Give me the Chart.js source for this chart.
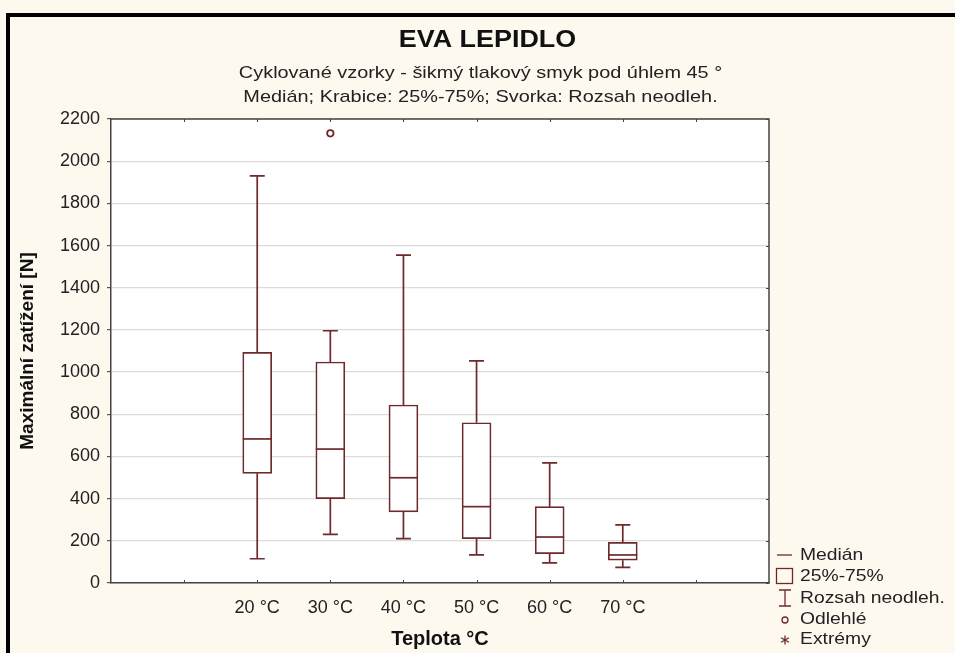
<!DOCTYPE html>
<html>
<head>
<meta charset="utf-8">
<script src="https://cdn.jsdelivr.net/npm/chart.js@4.4.1/dist/chart.umd.min.js"></script>
<style>
  html, body { margin: 0; padding: 0; background: #fdf9ef; }
  body { width: 955px; height: 653px; position: relative; overflow: hidden; }
  #frame {
    position: absolute; left: 6px; top: 13px; width: 949px; height: 640px;
    border-left: 4px solid #000; border-top: 4px solid #000;
  }
  #wrap { position: absolute; left: 0; top: 0; width: 945px; height: 636px; }
</style>
</head>
<body>
<div id="frame"><div id="wrap"><canvas id="c" width="945" height="636"></canvas></div></div>
<script>
// Box plot of maximum load per test temperature
const categories = ['20 °C', '30 °C', '40 °C', '50 °C', '60 °C', '70 °C'];
const whiskerLow  = [115, 231, 210, 133,  95,  74];
const q1          = [520, 400, 337, 210, 139, 108];
const median      = [683, 635, 499, 362, 218, 133];
const q3          = [1094, 1048, 844, 760, 362, 193];
const whiskerHigh = [1930, 1196, 1555, 1053, 570, 276];
const outlierCategory = ['30 °C'];
const outlierValue    = [2132];
const yTickValues = [0, 200, 400, 600, 800, 1000, 1200, 1400, 1600, 1800, 2000, 2200];

const titleText = 'EVA LEPIDLO';
const subtitleLines = [
  'Cyklované vzorky - šikmý tlakový smyk pod úhlem 45 °',
  'Medián; Krabice: 25%-75%; Svorka: Rozsah neodleh.'
];
const legendLabels = ['Medián', '25%-75%', 'Rozsah neodleh.', 'Odlehlé', 'Extrémy'];

// categories sit on slots 2..7 of a 0..9 axis; 1 and 8 are empty tick positions
const SLOT_OFFSET = 2;
const slotOf = (i) => i + SLOT_OFFSET;

const BOX = '#6e2a2a';
const TEXT = '#222';
const FONT = "'Liberation Sans', Arial, sans-serif";
const WIDE = 1.17; // horizontal stretch of the heading and legend lettering

const boxData = categories.map((c, i) => ({ x: slotOf(i), y: [q1[i], q3[i]] }));
const outlierData = outlierCategory.map((c, k) => ({ x: slotOf(categories.indexOf(c)), y: outlierValue[k] }));

function wideText(ctx, text, x, y, stretch) {
  ctx.save();
  ctx.translate(x, y);
  ctx.scale(stretch, 1);
  ctx.fillText(text, 0, 0);
  ctx.restore();
}

const plotDecor = {
  id: 'plotDecor',
  beforeDraw(chart) {
    const { ctx, chartArea: a } = chart;
    ctx.save();
    ctx.fillStyle = '#ffffff';
    ctx.fillRect(a.left, a.top, a.right - a.left, a.bottom - a.top);
    ctx.restore();
  },
  beforeDatasetsDraw(chart) {
    const { ctx, scales: { x, y } } = chart;
    ctx.save();
    ctx.strokeStyle = BOX;
    ctx.lineWidth = 1.7;
    const cap = 7.5;
    categories.forEach((c, i) => {
      const px = x.getPixelForValue(slotOf(i));
      const lo = y.getPixelForValue(whiskerLow[i]);
      const hi = y.getPixelForValue(whiskerHigh[i]);
      const b1 = y.getPixelForValue(q1[i]);
      const b3 = y.getPixelForValue(q3[i]);
      ctx.beginPath();
      ctx.moveTo(px, b1); ctx.lineTo(px, lo);
      ctx.moveTo(px - cap, lo); ctx.lineTo(px + cap, lo);
      ctx.moveTo(px, b3); ctx.lineTo(px, hi);
      ctx.moveTo(px - cap, hi); ctx.lineTo(px + cap, hi);
      ctx.stroke();
    });
    ctx.restore();
  },
  afterDatasetsDraw(chart) {
    const { ctx, scales: { y } } = chart;
    const meta = chart.getDatasetMeta(0);
    ctx.save();
    ctx.strokeStyle = BOX;
    ctx.lineWidth = 1.7;
    categories.forEach((c, i) => {
      const bar = meta.data[i];
      const half = bar.width / 2;
      const m = y.getPixelForValue(median[i]);
      ctx.beginPath();
      ctx.moveTo(bar.x - half, m); ctx.lineTo(bar.x + half, m);
      ctx.stroke();
    });
    ctx.restore();
  },
  afterDraw(chart) {
    const { ctx, chartArea: a, scales: { x, y } } = chart;
    ctx.save();
    // frame: top and right edges
    ctx.strokeStyle = '#444';
    ctx.lineWidth = 1.5;
    ctx.beginPath();
    ctx.moveTo(a.left, a.top); ctx.lineTo(a.right, a.top); ctx.lineTo(a.right, a.bottom);
    ctx.stroke();
    // small inward tick marks
    ctx.lineWidth = 1;
    ctx.beginPath();
    x.ticks.forEach(t => {
      if (t.value <= x.min || t.value >= x.max) return;
      const px = Math.round(x.getPixelForValue(t.value)) + 0.5;
      ctx.moveTo(px, a.bottom); ctx.lineTo(px, a.bottom - 3);
      ctx.moveTo(px, a.top); ctx.lineTo(px, a.top + 3);
    });
    y.ticks.forEach(t => {
      const py = Math.round(y.getPixelForValue(t.value)) + 0.5;
      ctx.moveTo(a.right, py); ctx.lineTo(a.right - 3, py);
    });
    ctx.stroke();

    // titles
    const cx = chart.width / 2;
    ctx.fillStyle = '#111';
    ctx.textAlign = 'center';
    ctx.textBaseline = 'middle';
    ctx.font = `bold 23px ${FONT}`;
    wideText(ctx, titleText, cx + 5, 24, WIDE);
    ctx.fillStyle = TEXT;
    ctx.font = `17px ${FONT}`;
    wideText(ctx, subtitleLines[0], cx - 2, 56, WIDE);
    wideText(ctx, subtitleLines[1], cx - 2, 80, WIDE);

    // legend
    const lx = a.right + 4;
    const rows = [538, 559, 581, 602, 622];
    ctx.textAlign = 'left';
    ctx.font = `16.5px ${FONT}`;
    legendLabels.forEach((lab, k) => {
      ctx.fillStyle = TEXT;
      wideText(ctx, lab, lx + 27, rows[k], WIDE);
    });
    ctx.strokeStyle = BOX;
    ctx.lineWidth = 1.3;
    const sx = lx + 12;
    ctx.beginPath();
    // median dash
    ctx.moveTo(sx - 8, rows[0]); ctx.lineTo(sx + 7, rows[0]);
    ctx.stroke();
    // box square
    ctx.strokeRect(sx - 8.5, rows[1] - 7.5, 16, 15);
    // whisker symbol
    ctx.beginPath();
    ctx.moveTo(sx - 6, rows[2] - 8); ctx.lineTo(sx + 6, rows[2] - 8);
    ctx.moveTo(sx, rows[2] - 8); ctx.lineTo(sx, rows[2] + 8);
    ctx.moveTo(sx - 6, rows[2] + 8); ctx.lineTo(sx + 6, rows[2] + 8);
    ctx.stroke();
    // outlier circle
    ctx.beginPath();
    ctx.arc(sx, rows[3] + 1, 3, 0, Math.PI * 2);
    ctx.stroke();
    // extreme asterisk
    ctx.beginPath();
    for (let k = 0; k < 3; k++) {
      const ang = Math.PI / 2 + k * Math.PI / 3;
      ctx.moveTo(sx - 4.5 * Math.cos(ang), rows[4] + 1 - 4.5 * Math.sin(ang));
      ctx.lineTo(sx + 4.5 * Math.cos(ang), rows[4] + 1 + 4.5 * Math.sin(ang));
    }
    ctx.stroke();
    ctx.restore();
  }
};

new Chart(document.getElementById('c'), {
  type: 'bar',
  data: {
    datasets: [
      {
        type: 'bar',
        data: boxData,
        backgroundColor: '#ffffff',
        borderColor: BOX,
        borderWidth: 1.7,
        borderSkipped: false,
        barThickness: 29,
        order: 2
      },
      {
        type: 'scatter',
        data: outlierData,
        pointStyle: 'circle',
        pointRadius: 3.2,
        pointBorderWidth: 1.8,
        pointBackgroundColor: '#ffffff',
        pointBorderColor: BOX,
        order: 1
      }
    ]
  },
  options: {
    responsive: false,
    devicePixelRatio: 1,
    animation: false,
    layout: { padding: { top: 102, right: 186, bottom: 0, left: 0 } },
    plugins: { legend: { display: false }, tooltip: { enabled: false }, title: { display: false } },
    scales: {
      x: {
        type: 'linear',
        min: 0,
        max: 9,
        offset: false,
        afterFit: (s) => { s.height = 70; },
        afterBuildTicks: (s) => { s.ticks = [0,1,2,3,4,5,6,7,8,9].map(v => ({ value: v })); },
        ticks: {
          autoSkip: false,
          maxRotation: 0,
          padding: 14,
          color: TEXT,
          font: { family: FONT, size: 18 },
          callback: (v) => {
            const i = v - SLOT_OFFSET;
            return (i >= 0 && i < categories.length) ? categories[i] : '';
          }
        },
        grid: { display: false, drawTicks: false },
        border: { display: true, color: '#444', width: 1.5 },
        title: {
          display: true,
          text: 'Teplota °C',
          color: '#111',
          font: { family: FONT, size: 20, weight: 'bold' },
          padding: { top: 0, bottom: 2 }
        }
      },
      y: {
        min: 0,
        max: 2200,
        afterFit: (s) => { s.width = 101; },
        afterBuildTicks: (s) => { s.ticks = yTickValues.map(v => ({ value: v })); },
        ticks: {
          padding: 7,
          color: TEXT,
          font: { family: FONT, size: 18 },
          callback: (v) => String(v)
        },
        grid: { color: '#dcdcdc', lineWidth: 1.2, tickColor: '#555', tickLength: 4 },
        border: { display: true, color: '#444', width: 1.5 },
        title: {
          display: true,
          text: 'Maximální zatížení [N]',
          color: '#111',
          font: { family: FONT, size: 19, weight: 'bold' },
          padding: { top: 6, bottom: 0 }
        }
      }
    }
  },
  plugins: [plotDecor]
});
</script>
</body>
</html>
